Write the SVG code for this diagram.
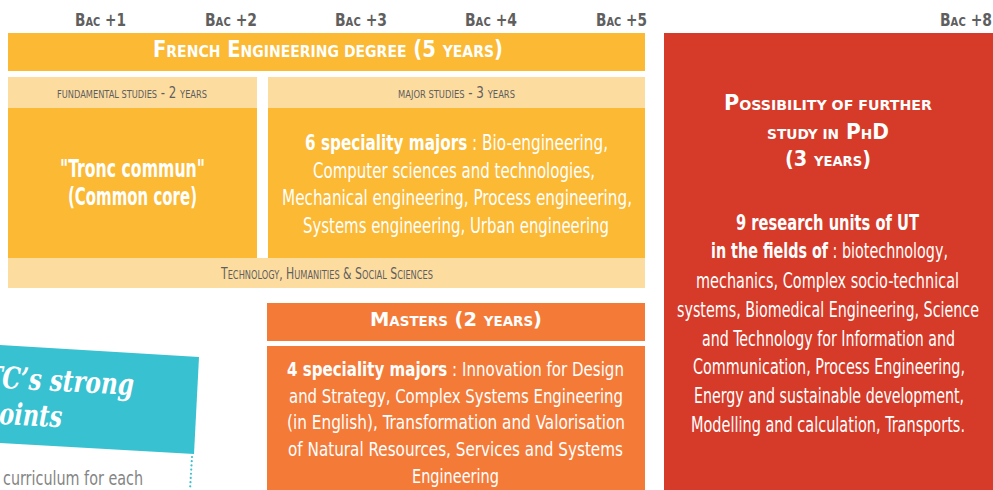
<svg xmlns="http://www.w3.org/2000/svg" width="993" height="490" viewBox="0 0 993 490">
<style>
.c{font-family:"DejaVu Sans Condensed","DejaVu Sans","Liberation Sans",sans-serif}
.w{fill:#ffffff}
.g{fill:#5f5f5f}
.b{font-weight:bold}
.yel{fill:#fbb934}
.lt{fill:#fddc9f}
.org{fill:#f47a38}
</style>
<rect width="993" height="490" fill="#ffffff"/>
<g id="bac-labels">
<text class="c g b" x="75" y="26" font-size="18" textLength="51" lengthAdjust="spacingAndGlyphs">B<tspan font-size="13">AC</tspan> +1</text>
<text class="c g b" x="205" y="26" font-size="18" textLength="52" lengthAdjust="spacingAndGlyphs">B<tspan font-size="13">AC</tspan> +2</text>
<text class="c g b" x="335" y="26" font-size="18" textLength="52" lengthAdjust="spacingAndGlyphs">B<tspan font-size="13">AC</tspan> +3</text>
<text class="c g b" x="465" y="26" font-size="18" textLength="52" lengthAdjust="spacingAndGlyphs">B<tspan font-size="13">AC</tspan> +4</text>
<text class="c g b" x="596" y="26" font-size="18" textLength="51" lengthAdjust="spacingAndGlyphs">B<tspan font-size="13">AC</tspan> +5</text>
<text class="c g b" x="940" y="26" font-size="18" textLength="52" lengthAdjust="spacingAndGlyphs">B<tspan font-size="13">AC</tspan> +8</text>
</g>
<g id="engineering-degree">
<rect class="yel" x="8" y="33" width="637" height="38"/>
<text class="c w b" x="153" y="57" font-size="23" textLength="350" lengthAdjust="spacingAndGlyphs">F<tspan font-size="16.5">RENCH</tspan> E<tspan font-size="16.5">NGINEERING DEGREE</tspan> (5 <tspan font-size="16.5">YEARS</tspan>)</text>
</g>
<g id="fundamental-studies">
<rect class="lt" x="8" y="77" width="249" height="31"/>
<text class="c g" x="57" y="98" font-size="15" textLength="150" lengthAdjust="spacingAndGlyphs"><tspan font-size="10.5">FUNDAMENTAL STUDIES</tspan> - 2 <tspan font-size="10.5">YEARS</tspan></text>
<rect class="yel" x="8" y="108" width="249" height="150"/>
<text class="c w b" x="60" y="177" font-size="24" textLength="145" lengthAdjust="spacingAndGlyphs">"Tronc commun"</text>
<text class="c w b" x="68" y="205" font-size="24" textLength="129" lengthAdjust="spacingAndGlyphs">(Common core)</text>
</g>
<g id="major-studies">
<rect class="lt" x="268" y="77" width="377" height="31"/>
<text class="c g" x="398" y="98" font-size="15" textLength="117" lengthAdjust="spacingAndGlyphs"><tspan font-size="10.5">MAJOR STUDIES</tspan> - 3 <tspan font-size="10.5">YEARS</tspan></text>
<rect class="yel" x="268" y="108" width="377" height="150"/>
<text class="c w" font-size="21">
<tspan x="305" y="150" textLength="303" lengthAdjust="spacingAndGlyphs"><tspan class="b">6 speciality majors</tspan> : Bio-engineering,</tspan>
<tspan x="313" y="178" textLength="282" lengthAdjust="spacingAndGlyphs">Computer sciences and technologies,</tspan>
<tspan x="282" y="205" textLength="350" lengthAdjust="spacingAndGlyphs">Mechanical engineering, Process engineering,</tspan>
<tspan x="303" y="233" textLength="306" lengthAdjust="spacingAndGlyphs">Systems engineering, Urban engineering</tspan>
</text>
</g>
<g id="technology-humanities">
<rect class="lt" x="8" y="258" width="637" height="30"/>
<text class="c g" x="221" y="279" font-size="16.5" textLength="212" lengthAdjust="spacingAndGlyphs">T<tspan font-size="12.5">ECHNOLOGY</tspan>, H<tspan font-size="12.5">UMANITIES</tspan> &amp; S<tspan font-size="12.5">OCIAL</tspan> S<tspan font-size="12.5">CIENCES</tspan></text>
</g>
<g id="masters">
<rect class="org" x="267" y="303" width="378" height="38"/>
<text class="c w b" x="370" y="326" font-size="19.5" textLength="172" lengthAdjust="spacingAndGlyphs">M<tspan font-size="13.5">ASTERS</tspan> (2 <tspan font-size="13.5">YEARS</tspan>)</text>
<rect class="org" x="267" y="346" width="378" height="144"/>
<text class="c w" font-size="20">
<tspan x="287" y="376" textLength="337" lengthAdjust="spacingAndGlyphs"><tspan class="b">4 speciality majors</tspan> : Innovation for Design</tspan>
<tspan x="289" y="403" textLength="334" lengthAdjust="spacingAndGlyphs">and Strategy, Complex Systems Engineering</tspan>
<tspan x="287" y="429" textLength="338" lengthAdjust="spacingAndGlyphs">(in English), Transformation and Valorisation</tspan>
<tspan x="288" y="456" textLength="335" lengthAdjust="spacingAndGlyphs">of Natural Resources, Services and Systems</tspan>
<tspan x="412" y="483" textLength="87" lengthAdjust="spacingAndGlyphs">Engineering</tspan>
</text>
</g>
<g id="phd">
<rect x="664" y="33" width="329" height="457" fill="#d63a28"/>
<text class="c w b" font-size="20.5">
<tspan x="724" y="110" textLength="208" lengthAdjust="spacingAndGlyphs">P<tspan font-size="14">OSSIBILITY OF FURTHER</tspan></tspan>
<tspan x="767" y="139" textLength="122" lengthAdjust="spacingAndGlyphs"><tspan font-size="14">STUDY IN</tspan> P<tspan font-size="14">H</tspan>D</tspan>
<tspan x="785" y="166" textLength="86" lengthAdjust="spacingAndGlyphs">(3 <tspan font-size="14">YEARS</tspan>)</tspan>
</text>
<text class="c w" font-size="20.5">
<tspan x="736" y="230" class="b" textLength="183" lengthAdjust="spacingAndGlyphs">9 research units of UT</tspan>
<tspan x="711" y="258" textLength="237" lengthAdjust="spacingAndGlyphs"><tspan class="b">in the fields of</tspan> : biotechnology,</tspan>
<tspan x="696" y="288" textLength="263" lengthAdjust="spacingAndGlyphs">mechanics, Complex socio-technical</tspan>
<tspan x="677" y="317" textLength="302" lengthAdjust="spacingAndGlyphs">systems, Biomedical Engineering, Science</tspan>
<tspan x="702" y="346" textLength="253" lengthAdjust="spacingAndGlyphs">and Technology for Information and</tspan>
<tspan x="693" y="374" textLength="272" lengthAdjust="spacingAndGlyphs">Communication, Process Engineering,</tspan>
<tspan x="694" y="403" textLength="270" lengthAdjust="spacingAndGlyphs">Energy and sustainable development,</tspan>
<tspan x="691" y="432" textLength="274" lengthAdjust="spacingAndGlyphs">Modelling and calculation, Transports.</tspan>
</text>
</g>
<g id="strong-points">
<polygon points="0,345 199,357 194,454 0,443" fill="#38c1d1"/>
<g transform="rotate(3 0 400)">
<text x="-16" y="388" font-family="'DejaVu Serif','Liberation Serif',serif" font-style="italic" font-weight="bold" font-size="30" fill="#ffffff" textLength="149" lengthAdjust="spacingAndGlyphs">TC’s strong</text>
<text x="0" y="424" font-family="'DejaVu Serif','Liberation Serif',serif" font-style="italic" font-weight="bold" font-size="30" fill="#ffffff" textLength="63" lengthAdjust="spacingAndGlyphs">oints</text>
</g>
<line x1="192" y1="457" x2="190" y2="490" stroke="#38c1d1" stroke-width="2.2" stroke-linecap="round" stroke-dasharray="0 4.2"/>
<text class="c" x="3" y="485" font-size="20" fill="#858585" textLength="140" lengthAdjust="spacingAndGlyphs">curriculum for each</text>
</g>
</svg>
